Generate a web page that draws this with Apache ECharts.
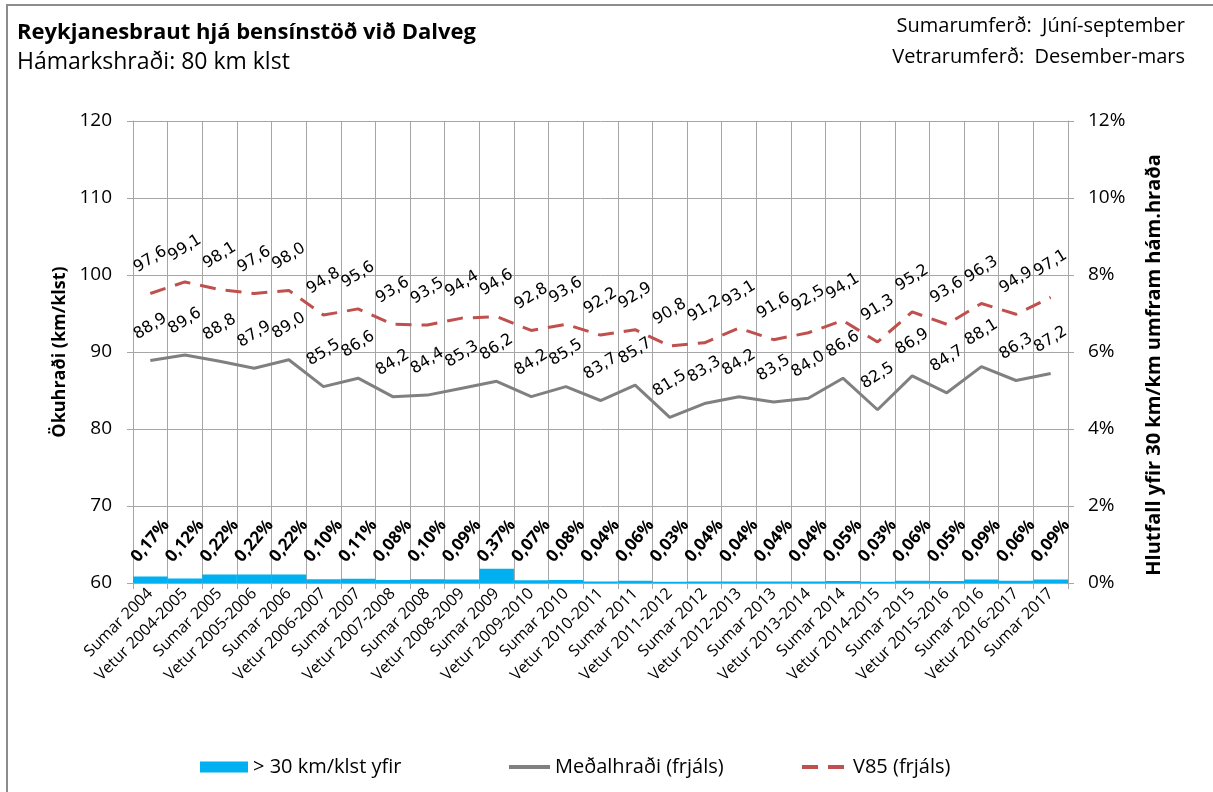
<!DOCTYPE html>
<html>
<head>
<meta charset="utf-8">
<script src="https://cdn.jsdelivr.net/npm/echarts@6/dist/echarts.min.js"></script>
<style>
  html, body { margin: 0; padding: 0; background: #fff; }
  #chart { width: 1213px; height: 792px; }
</style>
</head>
<body>
<div id="chart"></div>
<script>
// Survey periods (summer = June–September, winter = December–March)
const periods = [
  'Sumar 2004', 'Vetur 2004-2005', 'Sumar 2005', 'Vetur 2005-2006', 'Sumar 2006',
  'Vetur 2006-2007', 'Sumar 2007', 'Vetur 2007-2008', 'Sumar 2008', 'Vetur 2008-2009',
  'Sumar 2009', 'Vetur 2009-2010', 'Sumar 2010', 'Vetur 2010-2011', 'Sumar 2011',
  'Vetur 2011-2012', 'Sumar 2012', 'Vetur 2012-2013', 'Sumar 2013', 'Vetur 2013-2014',
  'Sumar 2014', 'Vetur 2014-2015', 'Sumar 2015', 'Vetur 2015-2016', 'Sumar 2016',
  'Vetur 2016-2017', 'Sumar 2017'
];

// Share of vehicles more than 30 km/h over the limit (%)
const overShare = [
  0.17, 0.12, 0.22, 0.22, 0.22, 0.10, 0.11, 0.08, 0.10, 0.09,
  0.37, 0.07, 0.08, 0.04, 0.06, 0.03, 0.04, 0.04, 0.04, 0.04,
  0.05, 0.03, 0.06, 0.05, 0.09, 0.06, 0.09
];

// Mean speed, free-flowing traffic (km/h)
const meanSpeed = [
  88.9, 89.6, 88.8, 87.9, 89.0, 85.5, 86.6, 84.2, 84.4, 85.3,
  86.2, 84.2, 85.5, 83.7, 85.7, 81.5, 83.3, 84.2, 83.5, 84.0,
  86.6, 82.5, 86.9, 84.7, 88.1, 86.3, 87.2
];

// 85th percentile speed, free-flowing traffic (km/h)
const v85 = [
  97.6, 99.1, 98.1, 97.6, 98.0, 94.8, 95.6, 93.6, 93.5, 94.4,
  94.6, 92.8, 93.6, 92.2, 92.9, 90.8, 91.2, 93.1, 91.6, 92.5,
  94.1, 91.3, 95.2, 93.6, 96.3, 94.9, 97.1
];

const leftTicks = { min: 60, max: 120, interval: 10 };
const rightTicks = { min: 0, max: 12, interval: 2 };

const UI_FONT = "'Open Sans', 'Noto Sans', sans-serif";
const LABEL_FONT = "'DejaVu Sans', sans-serif";
const GRID_COLOR = '#a6a6a6';
const comma1 = v => v.toFixed(1).replace('.', ',');
const comma2 = v => v.toFixed(2).replace('.', ',');

// Offset, in a label's rotated frame, that moves a label rotated by `deg` straight up by `d` px
const lift = (d, deg) => {
  const a = deg * Math.PI / 180;
  return [d * Math.sin(a), -d * Math.cos(a)];
};

const BAR_LABEL_ROTATE = 50;

const chart = echarts.init(document.getElementById('chart'), null, { renderer: 'canvas' });

const lineLabel = {
  show: true,
  position: 'top',
  distance: 34,
  rotate: 32,
  align: 'center',
  verticalAlign: 'middle',
  fontFamily: LABEL_FONT,
  fontSize: 16,
  color: '#000',
  formatter: p => comma1(p.value)
};

const legendText = { fontFamily: UI_FONT, fontSize: 20, color: '#000' };

chart.setOption({
  animation: false,
  backgroundColor: '#fff',
  textStyle: { fontFamily: UI_FONT },
  graphic: [
    {
      type: 'rect',
      shape: { x: 7, y: 5, width: 1400, height: 1000 },
      style: { fill: 'none', stroke: '#8c8c8c', lineWidth: 2 },
      silent: true
    },
    {
      type: 'text', left: 17, top: 22,
      style: { text: 'Reykjanesbraut hjá bensínstöð við Dalveg', fontFamily: UI_FONT, fontSize: 22, fontWeight: 'bold', fill: '#000' }
    },
    {
      type: 'text', left: 17, top: 51,
      style: { text: 'Hámarkshraði: 80 km klst', fontFamily: UI_FONT, fontSize: 23, fill: '#000' }
    },
    {
      type: 'text', right: 28, top: 16,
      style: { text: 'Sumarumferð:  Júní-september', fontFamily: UI_FONT, fontSize: 20, fill: '#000' }
    },
    {
      type: 'text', right: 28, top: 47,
      style: { text: 'Vetrarumferð:  Desember-mars', fontFamily: UI_FONT, fontSize: 20, fill: '#000' }
    }
  ],
  grid: { left: 133, right: 145, top: 121, bottom: 209, containLabel: false },
  legend: [
    {
      left: 200, top: 757, padding: 0, itemWidth: 48, itemHeight: 11,
      icon: 'rect',
      textStyle: legendText,
      data: ['> 30 km/klst yfir']
    },
    {
      left: 507, top: 757, padding: 0, itemWidth: 41, itemHeight: 11,
      textStyle: legendText,
      itemStyle: { opacity: 0 },
      lineStyle: { width: 4 },
      data: ['Meðalhraði (frjáls)']
    },
    {
      left: 800, top: 757, padding: 0, itemWidth: 46, itemHeight: 11,
      textStyle: legendText,
      itemStyle: { opacity: 0 },
      lineStyle: { width: 4 },
      data: ['V85 (frjáls)']
    }
  ],
  xAxis: {
    type: 'category',
    data: periods,
    boundaryGap: true,
    axisLine: { lineStyle: { color: GRID_COLOR, width: 1 } },
    axisTick: { show: true, length: 6, lineStyle: { color: GRID_COLOR } },
    axisLabel: {
      interval: 0, rotate: 45, fontFamily: UI_FONT, fontSize: 16, color: '#000', margin: 8
    },
    splitLine: { show: true, lineStyle: { color: GRID_COLOR, width: 1 } }
  },
  yAxis: [
    {
      type: 'value',
      min: leftTicks.min, max: leftTicks.max, interval: leftTicks.interval,
      name: 'Ökuhraði (km/klst)',
      nameLocation: 'middle',
      nameGap: 64,
      nameTextStyle: { fontFamily: UI_FONT, fontSize: 18, fontWeight: 'bold', color: '#000' },
      axisLine: { show: true, lineStyle: { color: GRID_COLOR } },
      axisTick: { show: true, length: 6, lineStyle: { color: GRID_COLOR } },
      axisLabel: { fontFamily: UI_FONT, fontSize: 19, color: '#000', margin: 21 },
      splitLine: { show: true, lineStyle: { color: GRID_COLOR, width: 1 } }
    },
    {
      type: 'value',
      min: rightTicks.min, max: rightTicks.max, interval: rightTicks.interval,
      position: 'right',
      name: 'Hlutfall yfir 30 km/km umfram hám.hraða',
      nameLocation: 'middle',
      nameGap: 76,
      nameRotate: 90,
      nameTextStyle: {
        fontFamily: UI_FONT, fontSize: 20, fontWeight: 'bold', color: '#000',
        padding: [0, 26, 0, 0]
      },
      axisLine: { show: true, lineStyle: { color: GRID_COLOR } },
      axisTick: { show: true, length: 6, lineStyle: { color: GRID_COLOR } },
      axisLabel: { fontFamily: UI_FONT, fontSize: 19, color: '#000', margin: 20, formatter: '{value}%' },
      splitLine: { show: false }
    }
  ],
  series: [
    {
      name: '> 30 km/klst yfir',
      type: 'bar',
      yAxisIndex: 1,
      data: overShare,
      barCategoryGap: '0%',
      itemStyle: { color: '#00b0f0' },
      z: 1,
      label: {
        show: true,
        position: 'insideBottom',
        distance: 0,
        offset: lift(42, BAR_LABEL_ROTATE),
        rotate: BAR_LABEL_ROTATE,
        align: 'center',
        verticalAlign: 'middle',
        fontFamily: UI_FONT,
        fontSize: 17,
        fontWeight: 'bold',
        color: '#000',
        formatter: p => comma2(p.value) + '%'
      }
    },
    {
      name: 'Meðalhraði (frjáls)',
      type: 'line',
      yAxisIndex: 0,
      data: meanSpeed,
      symbol: 'circle',
      symbolSize: 0.01,
      showSymbol: true,
      lineStyle: { color: '#808080', width: 3 },
      itemStyle: { color: '#808080' },
      z: 3,
      label: lineLabel,
      labelLayout: { hideOverlap: false }
    },
    {
      name: 'V85 (frjáls)',
      type: 'line',
      yAxisIndex: 0,
      data: v85,
      symbol: 'circle',
      symbolSize: 0.01,
      showSymbol: true,
      lineStyle: { color: '#c0504d', width: 3, type: [16, 10] },
      itemStyle: { color: '#c0504d' },
      z: 3,
      label: lineLabel,
      labelLayout: { hideOverlap: false }
    }
  ]
});
</script>
</body>
</html>
